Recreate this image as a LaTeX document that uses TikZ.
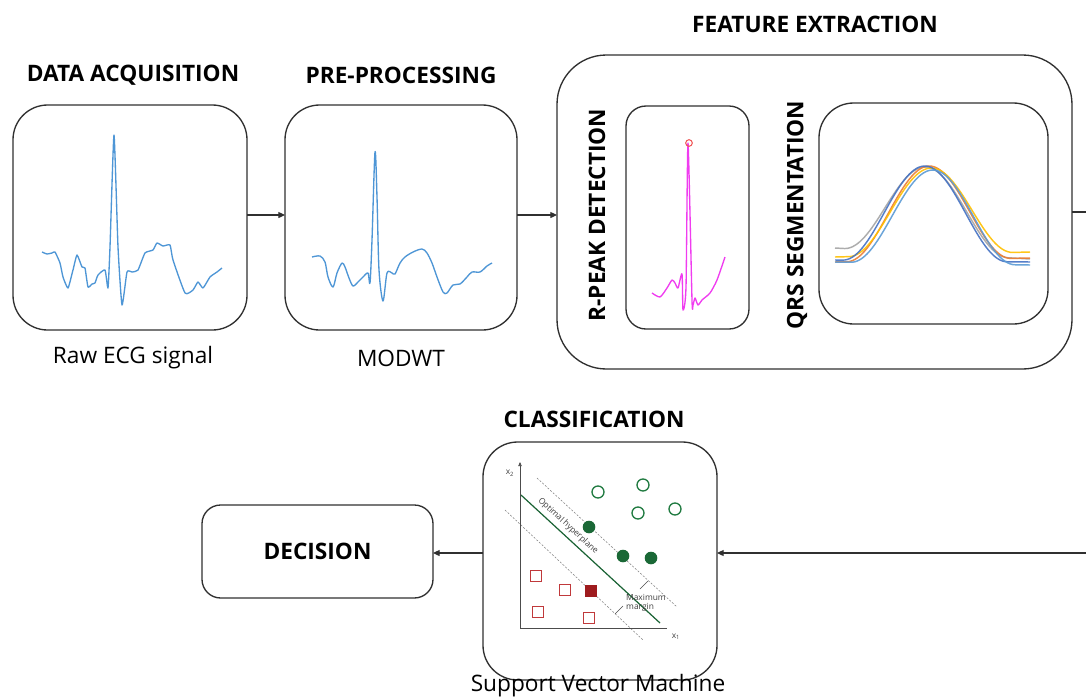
\documentclass[tikz,border=0pt]{standalone}
\usepackage{fontspec}
\setmainfont{Open Sans}
\usetikzlibrary{arrows.meta}
\definecolor{ecgblue}{HTML}{4E96D6}
\definecolor{peakmag}{HTML}{F03CF0}
\definecolor{peakred}{HTML}{F05A5A}
\definecolor{svmgreen}{HTML}{1F7A40}
\definecolor{svmred}{HTML}{C0393B}
\definecolor{svmdred}{HTML}{9E1B1E}
\definecolor{qblue}{HTML}{4472C4}
\definecolor{qorange}{HTML}{ED7D31}
\definecolor{qyellow}{HTML}{FFC000}
\definecolor{qgray}{HTML}{A5A5A5}
\definecolor{qlblue}{HTML}{5B9BD5}
\definecolor{boxline}{HTML}{303030}
\tikzset{
  box/.style={draw=boxline, line width=1pt, inner sep=0pt, outer sep=0pt, fill=white},
  title/.style={font=\fontsize{17}{20}\selectfont\bfseries, inner sep=0pt},
  caption/.style={font=\fontsize{17}{20}\selectfont, inner sep=0pt},
  arr/.style={draw=boxline, line width=0.9pt, -{Triangle[length=5pt,width=4.5pt]}},
  ecg/.style={ecgblue, line width=1pt, line join=round},
  svmdash/.style={draw=gray, line width=0.4pt, dash pattern=on 1.5pt off 1.2pt},
  tiny/.style={font=\fontsize{6.3}{7}\selectfont, inner sep=0pt, text=black!75},
}
\begin{document}
\begin{tikzpicture}[x=0.75pt,y=-0.75pt]
\useasboundingbox (0,0) rectangle (1086,697);
\clip (0,0) rectangle (1086,697);
\fill[white] (0,0) rectangle (1086,697);

% ---------- boxes ----------
\node[box, rounded corners=37pt, minimum width=386.25pt, minimum height=235.5pt] (feat) at (814.5,212) {};
\node[box, rounded corners=26pt, minimum width=175.5pt, minimum height=168.75pt] (data) at (130,217.5) {};
\node[box, rounded corners=26pt, minimum width=174pt, minimum height=168.75pt] (pre) at (401,217.5) {};
\node[box, rounded corners=15pt, minimum width=92.25pt, minimum height=167.25pt] (rpk) at (687.5,217.5) {};
\node[box, rounded corners=26pt, minimum width=171.75pt, minimum height=165.75pt] (qrs) at (933.5,213.5) {};
\node[box, rounded corners=26pt, minimum width=175.5pt, minimum height=178.5pt] (svm) at (600,561) {};
\node[box, rounded corners=14pt, minimum width=173.25pt, minimum height=69.75pt] (dec) at (317.5,551.5) {};

% ---------- texts ----------
\node[title] (tdata) at (133,75) {DATA ACQUISITION};
\node[title] (tpre) at (401,75) {PRE-PROCESSING};
\node[title] (tfeat) at (815,24) {FEATURE EXTRACTION};
\node[title, rotate=90] (trpk) at (597,215) {R-PEAK DETECTION};
\node[title, rotate=90] (tqrs) at (797,215) {QRS SEGMENTATION};
\node[title] (tcls) at (594,419) {CLASSIFICATION};
\node[title] (tdec) at (dec) {DECISION};
\node[caption] (craw) at (133,358) {Raw ECG signal};
\node[caption] (cmod) at (401,358) {MODWT};
\node[caption] (csvm) at (598,686) {Support Vector Machine};

% ---------- connectors ----------
\coordinate (turn) at (1110,553);
\draw[arr] (data.east |- 0,215) -- (pre.west |- 0,215);
\draw[arr] (pre.east |- 0,215) -- (feat.west |- 0,215);
\draw[arr] (feat.east) -| (turn) -- (turn -| svm.east);
\draw[arr] (svm.west |- turn) -- (dec.east |- turn);

% ---------- raw ECG ----------
\draw[ecg] plot[smooth, tension=0.3] coordinates {
(42,252) (47,254) (52,253) (55,252) (60,263) (63,277) (68,288) (73,270) (77,255)
(82,267) (85,268) (88,287) (92,284) (95,283) (98,275) (105,270) (108,288)
(110,247) (114,135) (118,247) (122,305) (127,272) (132,272) (138,270)
(145,253) (153,250) (157,243) (163,246) (170,245) (173,260) (185,293)
(193,290) (198,282) (203,288) (210,277) (217,272) (222,268)};

% ---------- MODWT ----------
\draw[ecg] plot[smooth, tension=0.5] coordinates {
(312,257) (320,256) (325,262) (328,277) (333,287) (337,273) (342,263) (345,267)
(349,278) (353,286) (358,282) (363,277) (368,273) (370,283) (372,240) (375,152)
(377,197) (379,270) (383,301) (387,273) (392,273) (395,274) (400,263) (405,257)
(413,252) (422,249) (427,253) (432,263) (437,277) (443,292) (447,293) (453,285)
(460,284) (467,277) (472,272) (480,272) (487,266) (492,263)};

% ---------- R-peak ----------
\draw[peakmag, line width=1pt, line join=round] plot[smooth, tension=0.4] coordinates {
(652,293) (660,297) (667,288) (672,280) (675,283) (678,288) (682,274) (683,310)
(686,287) (688,143) (692,300) (693,305) (695,298) (698,305) (702,300) (710,293)
(717,280) (725,257)};
\draw[peakred, line width=0.8pt] (689,143) circle[radius=3.3];

% ---------- QRS ----------
\foreach \c/\bl/\br/\pk/\cc in {926/248/259/167/qgray, 929/262/258/166/qorange, 931/257/252/168/qyellow, 925/260/262/166/qblue, 933/262/265/170/qlblue}{
  \draw[\cc, line width=1.1pt, opacity=0.9] plot[domain=835:1030, samples=80, variable=\x, smooth]
    (\x, {\bl+(\br-\bl)*(\x-835)/195 + (\pk-\bl-(\br-\bl)*(\c-835)/195)*(0.5+0.5*cos(180*min(1,abs(\x-\c)/82)))});
}

% ---------- SVM ----------
\draw[svmdash] (537,478) -- (677,607);
\draw[svmdash] (505,510) -- (643,640);
\draw[svmgreen!80!black, line width=0.9pt] (521,495) -- (660,623);
\draw[black!70, line width=0.5pt, -{Triangle[length=3pt,width=2.5pt]}] (520,628) -- (520,462);
\draw[black!70, line width=0.5pt] (520,628) -- (667,628);
\node[tiny] (lx2) at (510,473) {x\textsubscript{2}};
\node[tiny] (lx1) at (676,637) {x\textsubscript{1}};
\node[tiny, rotate=-42.6] (lopt) at (568,526) {Optimal hyperplane};
\node[tiny, align=left] (lmar) at (646,603) {Maximum\\margin};
\draw[black!70, line width=0.4pt] (640,589) -- (648,581);
\draw[black!70, line width=0.4pt] (623,606) -- (615,614);
\foreach \p in {(598,492),(643,485),(638,513),(675,509)}
  \draw[svmgreen, line width=1pt] \p circle[radius=6];
\foreach \p in {(589,527),(623,556),(651,558)}
  \fill[svmgreen!85!black] \p circle[radius=6.3];
\foreach \p in {(536,576),(565,590),(538,612),(589,618)}
  \draw[svmred, line width=0.9pt] \p ++(-5.5,-5.5) rectangle ++(11,11);
\fill[svmdred] (591,591) ++(-6,-6) rectangle ++(12,12);
\end{tikzpicture}
\end{document}
